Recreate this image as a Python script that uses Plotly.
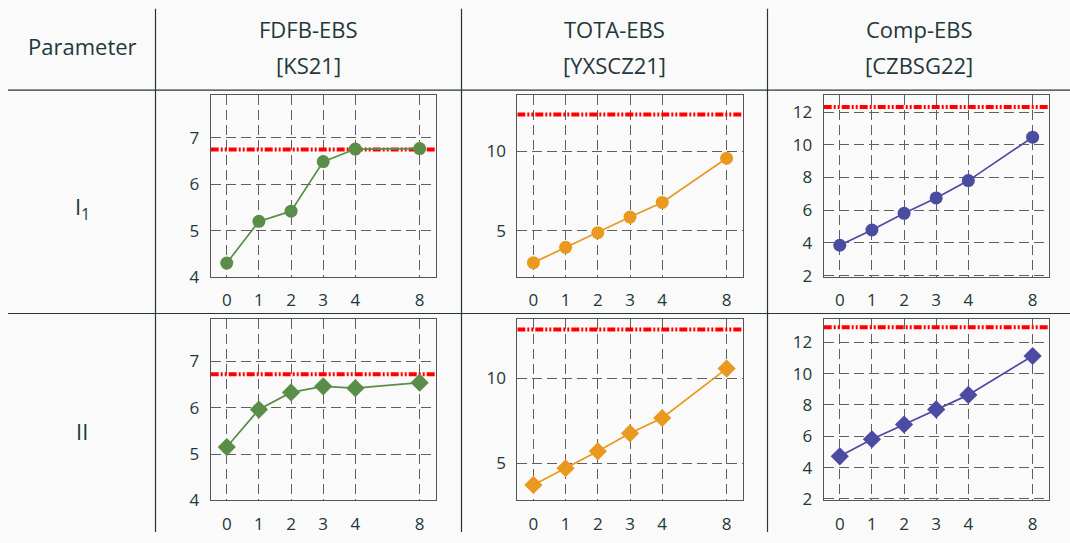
import plotly.graph_objects as go

# ---------------- data ----------------
x_labels = ["0", "1", "2", "3", "4", "8"]
x_pos = [0, 1, 2, 3, 4, 6]          # positions of the ticks on the axis (8 sits at slot 6)

col_titles = [["FDFB-EBS", "[KS21]"], ["TOTA-EBS", "[YXSCZ21]"], ["Comp-EBS", "[CZBSG22]"]]
row_titles = ["I<sub>1</sub>", "II"]
header_left = "Parameter"

fdfb_i1 = [4.30, 5.20, 5.42, 6.49, 6.76, 6.77]
tota_i1 = [3.00, 3.96, 4.88, 5.86, 6.78, 9.55]
comp_i1 = [3.86, 4.79, 5.81, 6.75, 7.81, 10.46]

fdfb_ii = [5.15, 5.96, 6.33, 6.46, 6.42, 6.54]
tota_ii = [3.71, 4.69, 5.69, 6.75, 7.65, 10.56]
comp_ii = [4.72, 5.81, 6.75, 7.71, 8.64, 11.12]

ref_i1 = [6.75, 12.29, 12.30]
ref_ii = [6.72, 12.86, 12.96]

y_ranges = [[[4, 7.92], [2.1, 13.5], [1.92, 13.02]],
            [[4, 7.92], [2.8, 13.5], [1.91, 13.5]]]
y_ticks = [[[4, 5, 6, 7], [5, 10], [2, 4, 6, 8, 10, 12]],
           [[4, 5, 6, 7], [5, 10], [2, 4, 6, 8, 10, 12]]]

series = [[fdfb_i1, tota_i1, comp_i1], [fdfb_ii, tota_ii, comp_ii]]
refs = [ref_i1, ref_ii]
colors = ["#5a8e48", "#e8991e", "#4b4ba2"]
symbols = ["circle", "diamond"]

# ---------------- layout geometry (pixels) ----------------
W, H = 1070, 543
BG = "#fafafa"
TXT = "#23373b"
FONT = "Open Sans"

col_px = [(210.7, 435.7), (517.3, 742.7), (823.7, 1048.7)]
row_px = [(97.3, 282.7), (325.3, 510.7)]


def xd(px):
    return px / W


def yd(py):
    return 1 - py / H


fig = go.Figure()
layout = dict(
    width=W, height=H, margin=dict(l=0, r=0, t=0, b=0),
    paper_bgcolor=BG, plot_bgcolor=BG, showlegend=False,
    font=dict(family=FONT, color=TXT, size=17),
)

k = 0
for r in range(2):
    for c in range(3):
        k += 1
        xa = "xaxis" if k == 1 else f"xaxis{k}"
        ya = "yaxis" if k == 1 else f"yaxis{k}"
        xr = "x" if k == 1 else f"x{k}"
        yr = "y" if k == 1 else f"y{k}"
        common = dict(showline=True, mirror=True, linecolor="#555555", linewidth=1,
                      showgrid=True, gridcolor="#5f5f5f", gridwidth=1, griddash="10px,5px",
                      zeroline=False, ticks="", tickfont=dict(family=FONT, size=17, color=TXT),
                      fixedrange=True)
        layout[xa] = dict(common, domain=[xd(col_px[c][0]), xd(col_px[c][1])],
                          range=[-0.5, 6.5], tickmode="array", tickvals=x_pos,
                          ticktext=x_labels, anchor=yr, ticklabelstandoff=8)
        layout[ya] = dict(common, domain=[yd(row_px[r][1]), yd(row_px[r][0])],
                          range=y_ranges[r][c], tickmode="array", tickvals=y_ticks[r][c],
                          anchor=xr, ticklabelstandoff=7)
        # red reference line
        fig.add_trace(go.Scatter(x=[-0.5, 6.5], y=[refs[r][c]] * 2, mode="lines",
                                 line=dict(color="#ff0000", width=4,
                                           dash="8px,2px,2px,2px,2px,2px"),
                                 xaxis=xr, yaxis=yr, hoverinfo="skip"))
        fig.add_trace(go.Scatter(x=x_pos, y=series[r][c], mode="lines+markers",
                                 line=dict(color=colors[c], width=1.7),
                                 marker=dict(symbol=symbols[r], color=colors[c],
                                             size=13 if r == 0 else 14,
                                             line=dict(width=0)),
                                 xaxis=xr, yaxis=yr))

# ---------------- table rules ----------------
shapes = []
for vx in [155.5, 461.5, 767.5]:
    shapes.append(dict(type="line", xref="paper", yref="paper",
                       x0=xd(vx), x1=xd(vx), y0=yd(9), y1=0,
                       line=dict(color=TXT, width=1.2)))
for hy in [92, 320]:
    shapes.append(dict(type="line", xref="paper", yref="paper",
                       x0=xd(8), x1=1, y0=yd(hy), y1=yd(hy),
                       line=dict(color=TXT, width=1.2)))
layout["shapes"] = shapes

# ---------------- table text ----------------
HFS = 22
ann = []


def add_text(txt, px, py):
    ann.append(dict(text=txt, x=xd(px), y=yd(py), xref="paper", yref="paper",
                    xanchor="center", yanchor="middle", showarrow=False,
                    font=dict(family=FONT, size=HFS, color=TXT)))


add_text(header_left, 82, 47)
col_centers = [308, 614.5, 919]
for c in range(3):
    add_text(col_titles[c][0], col_centers[c], 30)
    add_text(col_titles[c][1], col_centers[c], 66)
row_centers = [212, 440]
for r in range(2):
    add_text(row_titles[r], 82, row_centers[r])
layout["annotations"] = ann

fig.update_layout(**layout)
fig.write_html("out.html")
